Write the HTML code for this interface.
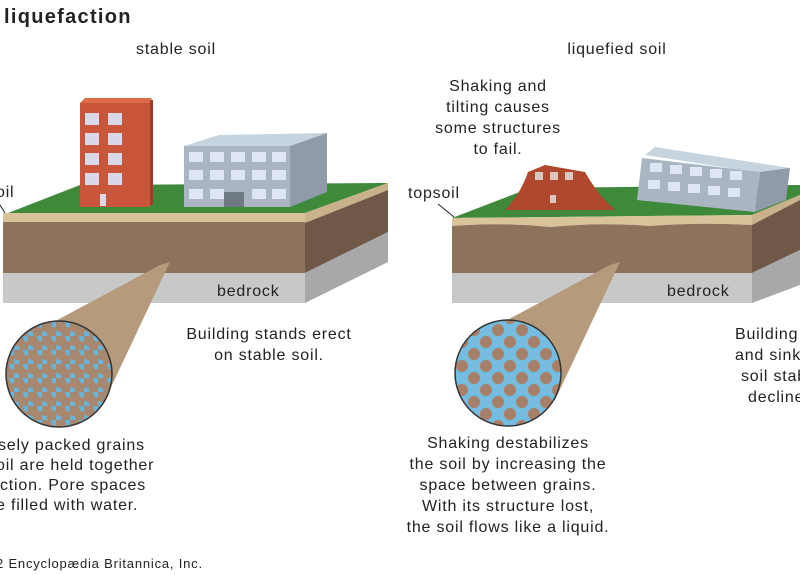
<!DOCTYPE html>
<html><head><meta charset="utf-8"><style>
body{margin:0;background:#fff}
svg{display:block}
text{font-family:"Liberation Sans",Arial,sans-serif;fill:#222;letter-spacing:0.8px}
</style></head><body>
<svg width="800" height="575" viewBox="0 0 800 575">
<defs>
<pattern id="g1" width="14" height="14" patternUnits="userSpaceOnUse">
<rect width="14" height="14" fill="#6ab4d8"/>
<circle cx="4" cy="4" r="6" fill="#a8876f"/><circle cx="11" cy="11" r="6" fill="#a8876f"/>
</pattern>
<pattern id="g2" width="24" height="24" patternUnits="userSpaceOnUse">
<rect width="24" height="24" fill="#74bde0"/>
<circle cx="6" cy="6" r="6" fill="#a8806a"/><circle cx="18" cy="18" r="6" fill="#a8806a"/>
</pattern>
<clipPath id="c1"><circle cx="59" cy="374" r="53"/></clipPath>
<clipPath id="c2"><circle cx="508" cy="373" r="53"/></clipPath>
</defs>
<text x="4" y="23" font-size="20" font-weight="bold" style="letter-spacing:1.3px">liquefaction</text>
<text x="176" y="54" font-size="16" text-anchor="middle">stable soil</text>
<text x="617" y="54" font-size="16" text-anchor="middle">liquefied soil</text>

<!-- left block -->
<polygon points="3,215 80,185 388,183 305,213" fill="#3f8a3a"/>
<polygon points="3,213 305,213 305,223 3,223" fill="#d8c39b"/>
<rect x="3" y="222" width="302" height="51" fill="#8e735c"/>
<rect x="3" y="273" width="302" height="30" fill="#c8c8c8"/>
<polygon points="305,213 388,183 388,190 305,223" fill="#c9b28b"/>
<polygon points="305,223 388,190 388,232 305,273" fill="#6f5848"/>
<polygon points="305,273 388,232 388,262 305,303" fill="#a8a8a8"/>
<!-- red building -->
<polygon points="80,103 85,98 152,98 150,103" fill="#e06a4c"/>
<rect x="80" y="103" width="70" height="104" fill="#c9553a"/>
<rect x="150" y="100" width="3" height="105" fill="#9c3e2a"/>
<g fill="#d8d8e8">
<rect x="85" y="113" width="14" height="12"/><rect x="108" y="113" width="14" height="12"/>
<rect x="85" y="133" width="14" height="12"/><rect x="108" y="133" width="14" height="12"/>
<rect x="85" y="153" width="14" height="12"/><rect x="108" y="153" width="14" height="12"/>
<rect x="85" y="173" width="14" height="12"/><rect x="108" y="173" width="14" height="12"/>
<rect x="100" y="194" width="6" height="12"/>
</g>
<!-- gray building -->
<polygon points="184,146 219,135 327,133 290,146" fill="#c5d4df"/>
<rect x="184" y="146" width="106" height="61" fill="#a9b6c2"/>
<polygon points="290,146 327,133 327,192 290,207" fill="#8f9ba8"/>
<g fill="#dfe6f3">
<rect x="189" y="152" width="14" height="10"/><rect x="210" y="152" width="14" height="10"/><rect x="231" y="152" width="14" height="10"/><rect x="252" y="152" width="14" height="10"/><rect x="272" y="152" width="14" height="10"/>
<rect x="189" y="170" width="14" height="10"/><rect x="210" y="170" width="14" height="10"/><rect x="231" y="170" width="14" height="10"/><rect x="252" y="170" width="14" height="10"/><rect x="272" y="170" width="14" height="10"/>
<rect x="189" y="189" width="14" height="10"/><rect x="210" y="189" width="14" height="10"/><rect x="252" y="189" width="14" height="10"/><rect x="272" y="189" width="14" height="10"/>
</g>
<rect x="224" y="192" width="20" height="15" fill="#6f7a84"/>
<text x="-4" y="197" font-size="16">oil</text>
<line x1="0" y1="205" x2="5" y2="213" stroke="#222"/>
<text x="217" y="296" font-size="16">bedrock</text>
<!-- cone left -->
<polygon points="170,262 160,265 20,340 105,400" fill="#b59a7c"/>
<g clip-path="url(#c1)"><rect x="0" y="315" width="120" height="120" fill="url(#g1)"/></g>
<circle cx="59" cy="374" r="53" fill="none" stroke="#333" stroke-width="1.5"/>
<text font-size="16" text-anchor="middle"><tspan x="269" y="339">Building stands erect</tspan><tspan x="269" y="360">on stable soil.</tspan></text>
<text font-size="16"><tspan x="-2" y="450">sely packed grains</tspan><tspan x="-4" y="470">oil are held together</tspan><tspan x="0" y="490">ction.  Pore spaces</tspan><tspan x="-4" y="510">e filled with water.</tspan></text>
<text x="-4" y="568" font-size="13">2 Encyclopædia Britannica, Inc.</text>

<!-- right block -->
<polygon points="452,218 530,188 800,185 800,195 752,215" fill="#3f8a3a"/>
<path d="M452,218 L752,215 L752,225 Q700,222 650,226 Q600,222 550,227 Q500,222 452,226 Z" fill="#d8c39b"/>
<path d="M452,226 Q500,222 550,227 Q600,222 650,226 Q700,222 752,225 L752,273 L452,273 Z" fill="#8e735c"/>
<rect x="452" y="273" width="300" height="30" fill="#c8c8c8"/>
<polygon points="752,215 800,195 800,200 752,225" fill="#c9b28b"/>
<polygon points="752,225 800,200 800,250 752,273" fill="#6f5848"/>
<polygon points="752,273 800,250 800,285 752,303" fill="#a8a8a8"/>
<!-- collapsed building -->
<path d="M505,210 Q520,195 528,172 L545,165 L585,172 Q598,195 615,210 Z" fill="#b0482e"/>
<g fill="#d8c8c0"><rect x="535" y="172" width="8" height="8"/><rect x="550" y="172" width="8" height="8"/><rect x="565" y="172" width="8" height="8"/><rect x="550" y="195" width="6" height="8"/></g>
<!-- tilted building -->
<polygon points="645,155 655,147 790,168 780,176" fill="#c5d4df"/>
<polygon points="642,158 760,172 755,212 637,200" fill="#a9b6c2"/>
<polygon points="760,172 790,168 786,200 755,212" fill="#8f9ba8"/>
<g fill="#dfe6f3">
<rect x="650" y="163" width="12" height="9"/><rect x="670" y="165" width="12" height="9"/><rect x="690" y="167" width="12" height="9"/><rect x="710" y="169" width="12" height="9"/><rect x="730" y="171" width="12" height="9"/>
<rect x="648" y="180" width="12" height="9"/><rect x="668" y="182" width="12" height="9"/><rect x="688" y="184" width="12" height="9"/><rect x="708" y="186" width="12" height="9"/><rect x="728" y="188" width="12" height="9"/>
</g>
<text font-size="16" text-anchor="middle"><tspan x="498" y="91">Shaking and</tspan><tspan x="498" y="112">tilting causes</tspan><tspan x="498" y="133">some structures</tspan><tspan x="498" y="154">to fail.</tspan></text>
<text x="408" y="198" font-size="16">topsoil</text>
<line x1="438" y1="204" x2="454" y2="217" stroke="#222"/>
<text x="667" y="296" font-size="16">bedrock</text>
<!-- cone right -->
<polygon points="620,262 610,265 470,340 555,400" fill="#b59a7c"/>
<g clip-path="url(#c2)"><rect x="450" y="315" width="120" height="120" fill="url(#g2)"/></g>
<circle cx="508" cy="373" r="53" fill="none" stroke="#333" stroke-width="1.5"/>
<text font-size="16" text-anchor="middle"><tspan x="508" y="448">Shaking destabilizes</tspan><tspan x="508" y="469">the soil by increasing the</tspan><tspan x="508" y="490">space between grains.</tspan><tspan x="508" y="511">With its structure lost,</tspan><tspan x="508" y="532">the soil flows like a liquid.</tspan></text>
<text font-size="16"><tspan x="735" y="339">Building</tspan><tspan x="735" y="360">and sink</tspan><tspan x="741" y="381">soil stab</tspan><tspan x="748" y="402">decline</tspan></text>
</svg>
</body></html>
